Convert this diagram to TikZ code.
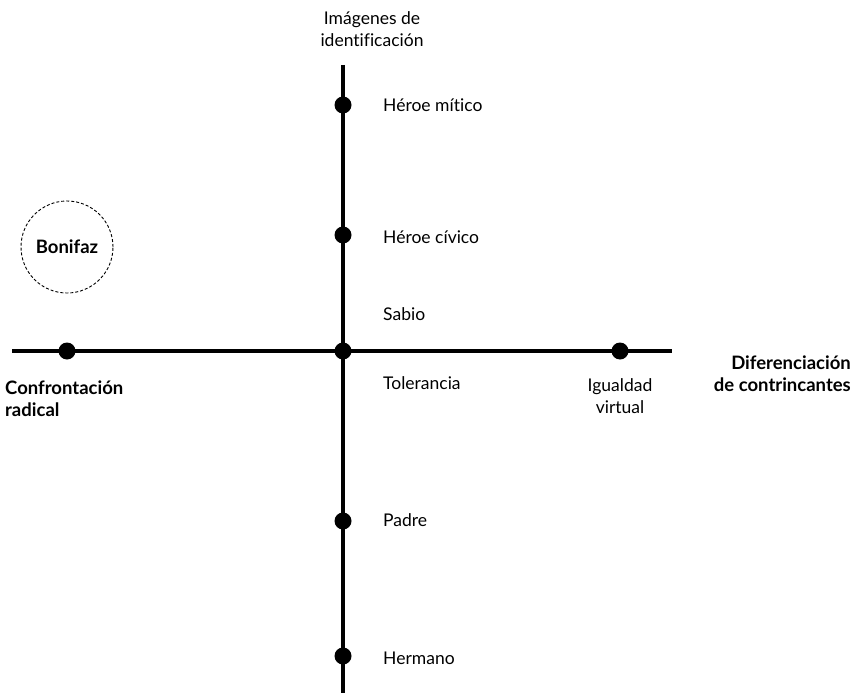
\documentclass[tikz,border=0pt]{standalone}
\usepackage{fontspec}
\setmainfont[RawFeature=-liga]{Lato}
\begin{document}
\begin{tikzpicture}[x=1pt,y=-1pt,
  axis/.style={line width=3.8pt},
  dot/.style={circle,fill=black,inner sep=0pt,minimum size=17pt},
  rfont/.style={font=\fontsize{17.5}{22}\selectfont},
  bfont/.style={font=\fontsize{18.5}{22}\selectfont\bfseries},
  lbl/.style={rfont,anchor=west,inner sep=0pt},
  blbl/.style={bfont,inner sep=0pt,align=left}]
\useasboundingbox (0,0) rectangle (854,693);
% axes ends
\coordinate (vt) at (343,65);
\coordinate (vb) at (343,693);
\coordinate (hl) at (12,351);
\coordinate (hr) at (672,351);
\draw[axis] (vt) -- (vb);
\draw[axis] (hl) -- (hr);
% dots
\node[dot] (d1) at (343,105) {};
\node[dot] (d2) at (343,235) {};
\node[dot] (d0) at (343,351) {};
\node[dot] (d3) at (343,521) {};
\node[dot] (d4) at (343,656) {};
\node[dot] (dl) at (67,351) {};
\node[dot] (dr) at (620,351) {};
% labels
\node[lbl] (l1) at (383,105) {Héroe mítico};
\node[lbl] (l2) at (383,237) {Héroe cívico};
\node[lbl] (l3) at (383,314) {Sabio};
\node[lbl] (l4) at (383,383) {Tolerancia};
\node[lbl] (l5) at (383,520) {Padre};
\node[lbl] (l6) at (383,658) {Hermano};
\node[rfont,align=center,inner sep=0pt] (top) at (372,29) {Imágenes de\\identificación};
\node[rfont,align=center,inner sep=0pt] (iv) at (620,396) {Igualdad\\virtual};
\node[blbl,anchor=west] (cr) at (5,399) {Confrontación\\radical};
\node[blbl,align=right,anchor=east] (dc) at (851,374) {Diferenciación\\de contrincantes};
% Bonifaz
\node[circle,draw,densely dashed,line width=0.9pt,minimum size=92pt,inner sep=0pt,bfont] (bon) at (67,247) {Bonifaz};
\end{tikzpicture}
\end{document}
